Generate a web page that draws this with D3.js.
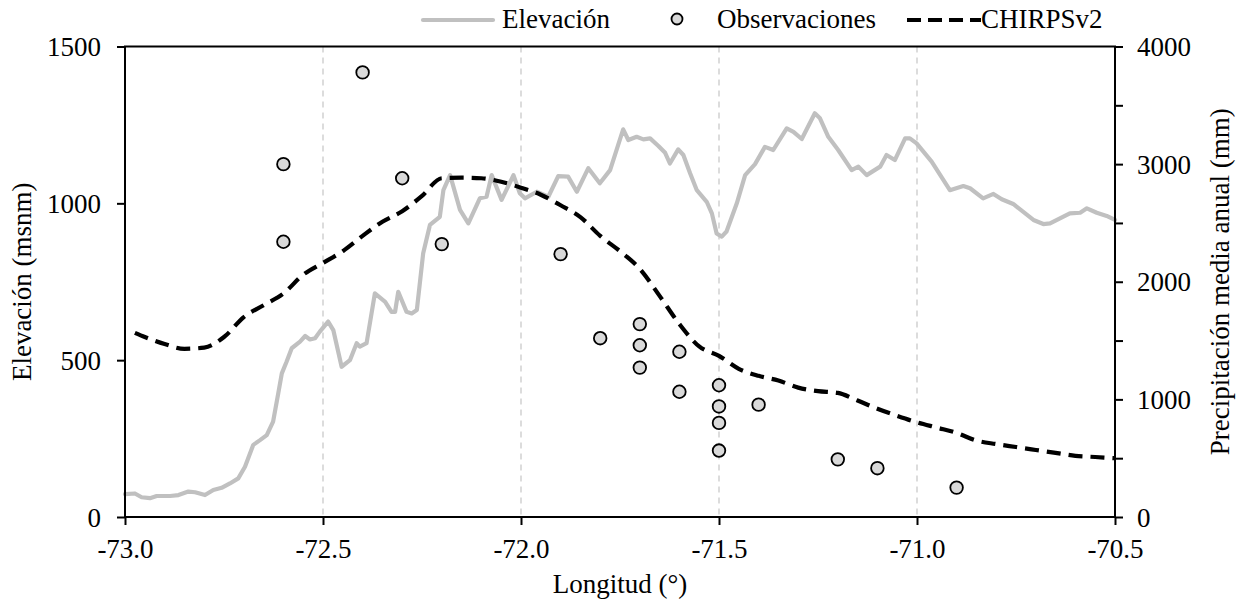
<!DOCTYPE html>
<html>
<head>
<meta charset="utf-8">
<script src="https://cdn.jsdelivr.net/npm/d3@7"></script>
<style>
  html, body { margin: 0; padding: 0; background: #fff; }
</style>
</head>
<body>
<svg id="chart" width="1242" height="602" font-family="'Liberation Serif', serif" style="font-family:'Liberation Serif', serif"></svg>
<script>
// ---------------- data ----------------
const elevLon = [-73.000,-72.975,-72.958,-72.937,-72.920,-72.886,-72.865,-72.840,-72.823,-72.798,-72.777,-72.756,-72.735,-72.714,-72.697,-72.676,-72.659,-72.642,-72.626,-72.613,-72.604,-72.592,-72.579,-72.558,-72.545,-72.533,-72.520,-72.508,-72.487,-72.474,-72.453,-72.432,-72.415,-72.407,-72.390,-72.369,-72.343,-72.327,-72.318,-72.310,-72.289,-72.276,-72.263,-72.247,-72.230,-72.205,-72.196,-72.179,-72.154,-72.133,-72.104,-72.087,-72.074,-72.049,-72.019,-72.003,-71.990,-71.960,-71.931,-71.906,-71.881,-71.859,-71.830,-71.801,-71.775,-71.742,-71.729,-71.708,-71.691,-71.674,-71.653,-71.636,-71.624,-71.603,-71.590,-71.573,-71.556,-71.531,-71.518,-71.506,-71.493,-71.481,-71.455,-71.434,-71.409,-71.384,-71.363,-71.329,-71.312,-71.291,-71.258,-71.245,-71.224,-71.199,-71.165,-71.148,-71.127,-71.093,-71.077,-71.056,-71.030,-71.018,-71.001,-70.963,-70.917,-70.883,-70.866,-70.833,-70.807,-70.786,-70.757,-70.706,-70.681,-70.664,-70.614,-70.588,-70.571,-70.546,-70.521,-70.500];
const elevVal = [73,75,63,60,67,67,70,81,79,70,86,93,107,123,160,230,245,261,304,394,458,495,538,559,577,566,570,591,623,596,479,500,554,543,554,713,686,654,654,718,654,649,660,841,931,957,1042,1090,979,936,1016,1021,1090,1011,1090,1032,1016,1037,1021,1087,1085,1037,1112,1064,1106,1236,1202,1212,1204,1207,1183,1161,1127,1172,1154,1096,1042,1005,968,904,894,910,1000,1090,1125,1180,1170,1239,1228,1205,1287,1271,1212,1170,1106,1117,1090,1117,1154,1138,1207,1207,1191,1133,1042,1055,1048,1016,1030,1013,998,947,934,936,968,970,984,970,960,947];

const chirpsLon = [-72.975,-72.95,-72.90,-72.85,-72.80,-72.75,-72.70,-72.65,-72.60,-72.55,-72.50,-72.45,-72.40,-72.35,-72.30,-72.25,-72.20,-72.15,-72.10,-72.05,-72.00,-71.95,-71.90,-71.85,-71.80,-71.75,-71.70,-71.65,-71.60,-71.55,-71.50,-71.45,-71.40,-71.35,-71.30,-71.25,-71.20,-71.15,-71.10,-71.05,-71.00,-70.95,-70.90,-70.85,-70.80,-70.75,-70.70,-70.65,-70.60,-70.55,-70.50];
const chirpsVal = [1565,1530,1470,1430,1440,1530,1700,1800,1900,2060,2160,2260,2390,2510,2600,2730,2880,2885,2880,2850,2800,2740,2650,2550,2390,2260,2110,1880,1640,1450,1370,1260,1200,1160,1100,1070,1055,990,920,860,805,760,715,650,620,595,570,545,520,510,500];

const obsLon = [-72.4,-72.6,-72.6,-72.3,-72.2,-71.9,-71.8,-71.7,-71.7,-71.7,-71.6,-71.6,-71.5,-71.5,-71.5,-71.5,-71.4,-71.2,-71.1,-70.9];
const obsVal = [3780,3000,2340,2880,2320,2235,1520,1640,1460,1270,1405,1065,1120,940,800,565,955,490,415,250];

const xTicks = [-73.0,-72.5,-72.0,-71.5,-71.0,-70.5];
const gridTicks = [-72.5,-72.0,-71.5,-71.0];
const yLeftTicks = [0,500,1000,1500];
const yRightTicks = [0,500,1000,1500,2000,2500,3000,3500,4000];
const yRightLabels = [0,1000,2000,3000,4000];

const legendLabels = ["Elevación","Observaciones","CHIRPSv2"];
const axisTitles = {x:"Longitud (°)", yl:"Elevación (msnm)", yr:"Precipitación media anual (mm)"};

// ---------------- layout ----------------
const L = 125, R = 1115, T = 46.5, B = 517;
const FONT = 27;
const FAM = "'Liberation Serif', serif";
const svg = d3.select("#chart");

function txt(sel){
  return sel.attr("font-family", FAM).style("font-family", FAM)
    .attr("font-size", FONT).style("font-size", FONT + "px").attr("fill", "#000");
}

const x = d3.scaleLinear().domain([-73, -70.5]).range([L, R]);
const yL = d3.scaleLinear().domain([0, 1500]).range([B, T]);
const yR = d3.scaleLinear().domain([0, 4000]).range([B, T]);

// grid
svg.append("g").selectAll("line").data(gridTicks).join("line")
  .attr("x1", d => x(d)).attr("x2", d => x(d))
  .attr("y1", T).attr("y2", B)
  .attr("stroke", "#d4d4d4").attr("stroke-width", 1.6)
  .attr("stroke-dasharray", "6,5");

// elevation line
const lineEl = d3.line().x(d => x(d[0])).y(d => yL(d[1]));
svg.append("path").datum(elevLon.map((d,i)=>[d, elevVal[i]]))
  .attr("d", lineEl).attr("fill","none")
  .attr("stroke","#c0c0c0").attr("stroke-width",4.2)
  .attr("stroke-linejoin","round").attr("stroke-linecap","round");

// chirps dashed line
const lineCh = d3.line().curve(d3.curveMonotoneX).x(d => x(d[0])).y(d => yR(d[1]));
svg.append("path").datum(chirpsLon.map((d,i)=>[d, chirpsVal[i]]))
  .attr("d", lineCh).attr("fill","none")
  .attr("stroke","#000").attr("stroke-width",4.2)
  .attr("stroke-dasharray","14,8");

// observations
svg.append("g").selectAll("circle").data(obsLon.map((d,i)=>[d, obsVal[i]])).join("circle")
  .attr("cx", d => x(d[0])).attr("cy", d => yR(d[1])).attr("r", 6.3)
  .attr("fill","#d9d9d9").attr("stroke","#000").attr("stroke-width",1.8);

// axes
function styleAxis(g){
  g.attr("font-family", FAM).attr("font-size", FONT);
  g.select(".domain").remove();
  g.selectAll(".tick line").attr("stroke","#000").attr("stroke-width",2);
  txt(g.selectAll(".tick text"));
}
const gx = svg.append("g").attr("transform",`translate(0,${B})`)
  .call(d3.axisBottom(x).tickValues(xTicks).tickFormat(d => d3.format(".1f")(d).replace("−","-")).tickSize(8).tickPadding(14));
styleAxis(gx);

const gyl = svg.append("g").attr("transform",`translate(${L},0)`)
  .call(d3.axisLeft(yL).tickValues(yLeftTicks).tickFormat(d => d).tickSize(8).tickPadding(16));
styleAxis(gyl);
gyl.selectAll(".tick text").attr("dy","0.34em");

const gyr = svg.append("g").attr("transform",`translate(${R},0)`)
  .call(d3.axisRight(yR).tickValues(yRightTicks).tickFormat(d => yRightLabels.includes(d) ? d : "").tickSize(8).tickPadding(14));
styleAxis(gyr);
gyr.selectAll(".tick text").attr("dy","0.34em");

// frame
svg.append("rect").attr("x",L).attr("y",T).attr("width",R-L).attr("height",B-T)
  .attr("fill","none").attr("stroke","#000").attr("stroke-width",2);

// axis titles
txt(svg.append("text")).attr("x",(L+R)/2).attr("y",593).attr("text-anchor","middle").text(axisTitles.x);
txt(svg.append("text")).attr("transform",`translate(31,${(T+B)/2}) rotate(-90)`).attr("text-anchor","middle").text(axisTitles.yl);
txt(svg.append("text")).attr("transform",`translate(1229,${(T+B)/2}) rotate(-90)`).attr("text-anchor","middle").text(axisTitles.yr);

// legend
const lg = svg.append("g");
lg.append("line").attr("x1",423).attr("x2",493).attr("y1",20).attr("y2",20)
  .attr("stroke","#c0c0c0").attr("stroke-width",4.2).attr("stroke-linecap","round");
txt(lg.append("text")).attr("x",502).attr("y",28).text(legendLabels[0]);
lg.append("circle").attr("cx",677).attr("cy",19).attr("r",5.5)
  .attr("fill","#d9d9d9").attr("stroke","#000").attr("stroke-width",1.8);
txt(lg.append("text")).attr("x",717).attr("y",28).text(legendLabels[1]);
lg.append("line").attr("x1",907).attr("x2",981).attr("y1",20).attr("y2",20)
  .attr("stroke","#000").attr("stroke-width",4.2).attr("stroke-dasharray","14,7");
txt(lg.append("text")).attr("x",981).attr("y",28).text(legendLabels[2]);
</script>
</body>
</html>
